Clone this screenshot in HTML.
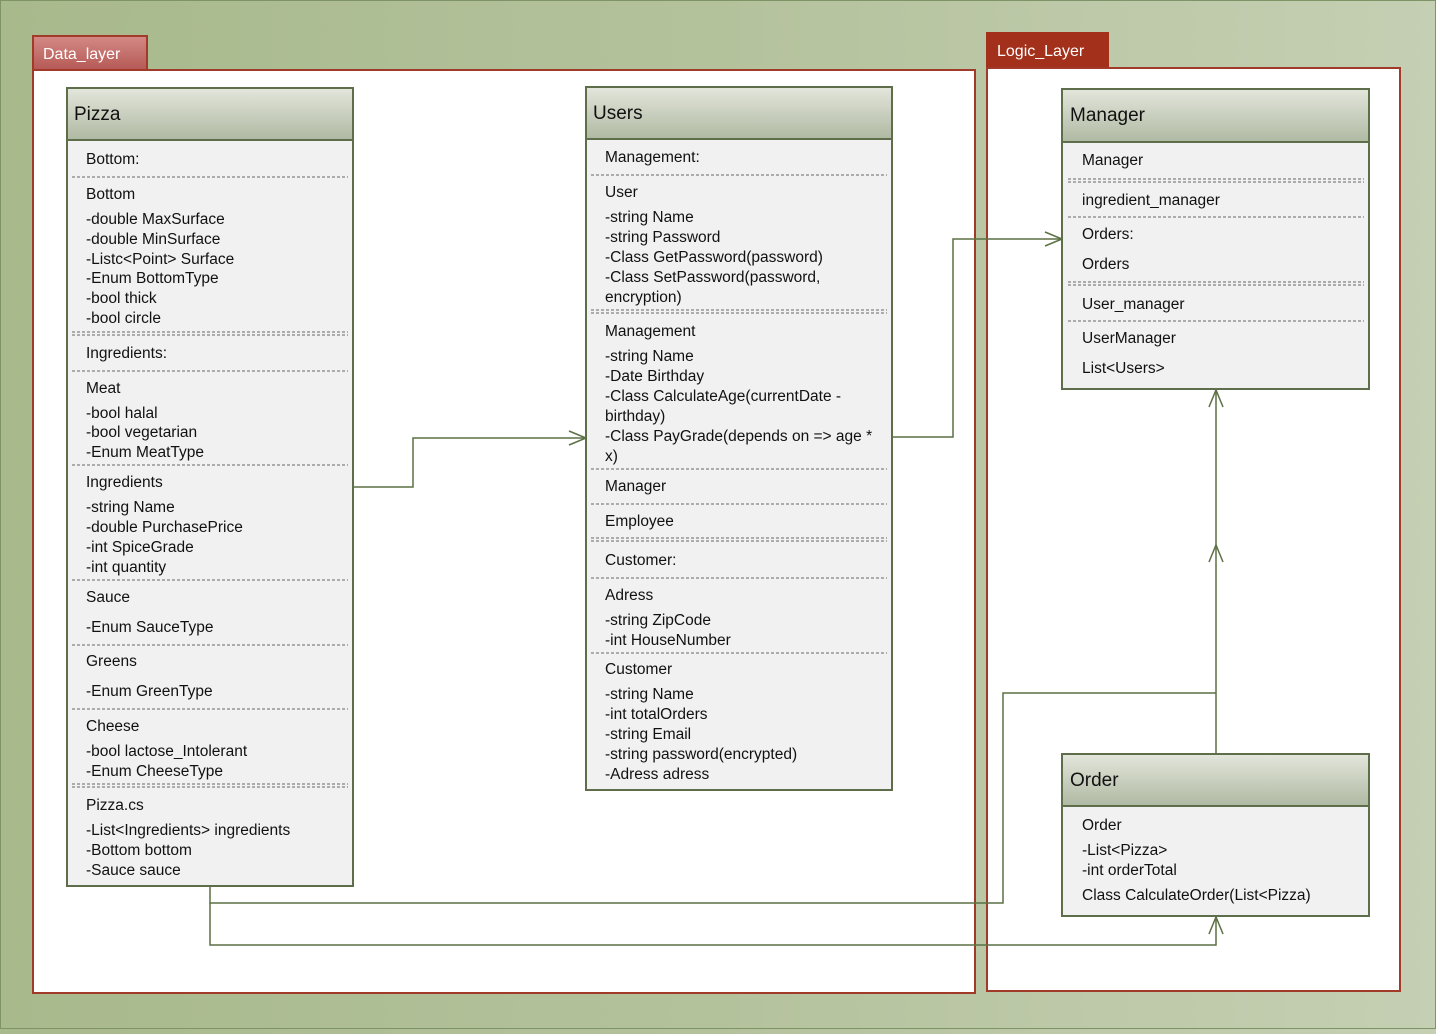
<!DOCTYPE html>
<html><head><meta charset="utf-8"><style>
html,body{margin:0;padding:0;}
body{width:1436px;height:1029px;overflow:hidden;background:linear-gradient(90deg,#a8b98c 0%,#b4c29c 50%,#c5cfb3 100%);}
svg text{font-family:"Liberation Sans",sans-serif;fill:#111;}
</style></head><body>
<svg width="1436" height="1029" viewBox="0 0 1436 1029" xmlns="http://www.w3.org/2000/svg">
<defs>
<linearGradient id="hd" x1="0" y1="0" x2="0" y2="1"><stop offset="0" stop-color="#e3e6dc"/><stop offset="1" stop-color="#b0b9a2"/></linearGradient>
<linearGradient id="tab1" x1="0" y1="0" x2="0" y2="1"><stop offset="0" stop-color="#d48a86"/><stop offset="1" stop-color="#b55955"/></linearGradient>
<marker id="ar" markerWidth="20" markerHeight="16" refX="18" refY="8" orient="auto" markerUnits="userSpaceOnUse"><path d="M1,1 L18,8 L1,15" fill="none" stroke="#5b7043" stroke-width="1.5"/></marker>
</defs>
<rect x="0.5" y="0.5" width="1435" height="1028" fill="none" stroke="#7f9466"/>
<!-- Data layer -->
<rect x="33" y="36" width="114" height="34" fill="url(#tab1)" stroke="#a23a2a" stroke-width="2"/>
<text x="43" y="59" font-size="16" style="fill:#fff">Data_layer</text>
<rect x="33" y="70" width="942" height="923" fill="#fff" stroke="#a23a2a" stroke-width="2"/>
<!-- Logic layer -->
<rect x="987" y="33" width="121" height="35" fill="#a3301a" stroke="#a3301a" stroke-width="2"/>
<text x="997" y="56" font-size="16" style="fill:#fff">Logic_Layer</text>
<rect x="987" y="68" width="413" height="923" fill="#fff" stroke="#a23a2a" stroke-width="2"/>

<g stroke="#5b7043" stroke-width="1.5" fill="none">
<polyline points="353,487 413,487 413,438 586,438" marker-end="url(#ar)"/>
<polyline points="892,437 953,437 953,239 1062,239" marker-end="url(#ar)"/>
<polyline points="210,886 210,903 1003,903 1003,693 1216,693"/>
<line x1="1216" y1="754" x2="1216" y2="545" marker-end="url(#ar)"/>
<line x1="1216" y1="546" x2="1216" y2="390" marker-end="url(#ar)"/>
<polyline points="210,903 210,945 1216,945 1216,917" marker-end="url(#ar)"/>
</g>

<!-- Pizza -->
<g>
<rect x="67" y="88" width="286" height="798" fill="#f1f1f1" stroke="#5e6e4a" stroke-width="2"/>
<rect x="67" y="88" width="286" height="52" fill="url(#hd)" stroke="#5e6e4a" stroke-width="2"/>
<text x="74" y="120" font-size="19">Pizza</text>
<g stroke="#666" stroke-width="1" stroke-dasharray="3,2">
<line x1="72" y1="177" x2="348" y2="177"/>
<line x1="72" y1="332" x2="348" y2="332"/><line x1="72" y1="335" x2="348" y2="335"/>
<line x1="72" y1="371" x2="348" y2="371"/>
<line x1="72" y1="465" x2="348" y2="465"/>
<line x1="72" y1="580" x2="348" y2="580"/>
<line x1="72" y1="645" x2="348" y2="645"/>
<line x1="72" y1="709" x2="348" y2="709"/>
<line x1="72" y1="784" x2="348" y2="784"/><line x1="72" y1="787" x2="348" y2="787"/>
</g>
<g font-size="15.5">
<text x="86" y="164">Bottom:</text>
<text x="86" y="199">Bottom</text>
<text x="86" y="224">-double MaxSurface</text>
<text x="86" y="244">-double MinSurface</text>
<text x="86" y="264">-Listc&lt;Point&gt; Surface</text>
<text x="86" y="283">-Enum BottomType</text>
<text x="86" y="303">-bool thick</text>
<text x="86" y="323">-bool circle</text>
<text x="86" y="358">Ingredients:</text>
<text x="86" y="393">Meat</text>
<text x="86" y="418">-bool halal</text>
<text x="86" y="437">-bool vegetarian</text>
<text x="86" y="457">-Enum MeatType</text>
<text x="86" y="487">Ingredients</text>
<text x="86" y="512">-string Name</text>
<text x="86" y="532">-double PurchasePrice</text>
<text x="86" y="552">-int SpiceGrade</text>
<text x="86" y="572">-int quantity</text>
<text x="86" y="602">Sauce</text>
<text x="86" y="632">-Enum SauceType</text>
<text x="86" y="666">Greens</text>
<text x="86" y="696">-Enum GreenType</text>
<text x="86" y="731">Cheese</text>
<text x="86" y="756">-bool lactose_Intolerant</text>
<text x="86" y="776">-Enum CheeseType</text>
<text x="86" y="810">Pizza.cs</text>
<text x="86" y="835">-List&lt;Ingredients&gt; ingredients</text>
<text x="86" y="855">-Bottom bottom</text>
<text x="86" y="875">-Sauce sauce</text>
</g>
</g>

<!-- Users -->
<g>
<rect x="586" y="87" width="306" height="703" fill="#f1f1f1" stroke="#5e6e4a" stroke-width="2"/>
<rect x="586" y="87" width="306" height="52" fill="url(#hd)" stroke="#5e6e4a" stroke-width="2"/>
<text x="593" y="119" font-size="19">Users</text>
<g stroke="#666" stroke-width="1" stroke-dasharray="3,2">
<line x1="591" y1="175" x2="887" y2="175"/>
<line x1="591" y1="310" x2="887" y2="310"/><line x1="591" y1="313" x2="887" y2="313"/>
<line x1="591" y1="469" x2="887" y2="469"/>
<line x1="591" y1="504" x2="887" y2="504"/>
<line x1="591" y1="538" x2="887" y2="538"/><line x1="591" y1="541" x2="887" y2="541"/>
<line x1="591" y1="578" x2="887" y2="578"/>
<line x1="591" y1="653" x2="887" y2="653"/>
</g>
<g font-size="15.5">
<text x="605" y="162">Management:</text>
<text x="605" y="197">User</text>
<text x="605" y="222">-string Name</text>
<text x="605" y="242">-string Password</text>
<text x="605" y="262">-Class GetPassword(password)</text>
<text x="605" y="282">-Class SetPassword(password,</text>
<text x="605" y="302">encryption)</text>
<text x="605" y="336">Management</text>
<text x="605" y="361">-string Name</text>
<text x="605" y="381">-Date Birthday</text>
<text x="605" y="401">-Class CalculateAge(currentDate -</text>
<text x="605" y="421">birthday)</text>
<text x="605" y="441">-Class PayGrade(depends on =&gt; age *</text>
<text x="605" y="461">x)</text>
<text x="605" y="491">Manager</text>
<text x="605" y="526">Employee</text>
<text x="605" y="565">Customer:</text>
<text x="605" y="600">Adress</text>
<text x="605" y="625">-string ZipCode</text>
<text x="605" y="645">-int HouseNumber</text>
<text x="605" y="674">Customer</text>
<text x="605" y="699">-string Name</text>
<text x="605" y="719">-int totalOrders</text>
<text x="605" y="739">-string Email</text>
<text x="605" y="759">-string password(encrypted)</text>
<text x="605" y="779">-Adress adress</text>
</g>
</g>

<!-- Manager -->
<g>
<rect x="1062" y="89" width="307" height="300" fill="#f1f1f1" stroke="#5e6e4a" stroke-width="2"/>
<rect x="1062" y="89" width="307" height="53" fill="url(#hd)" stroke="#5e6e4a" stroke-width="2"/>
<text x="1070" y="121" font-size="19">Manager</text>
<g stroke="#666" stroke-width="1" stroke-dasharray="3,2">
<line x1="1068" y1="179" x2="1364" y2="179"/><line x1="1068" y1="182" x2="1364" y2="182"/>
<line x1="1068" y1="217" x2="1364" y2="217"/>
<line x1="1068" y1="282" x2="1364" y2="282"/><line x1="1068" y1="285" x2="1364" y2="285"/>
<line x1="1068" y1="321" x2="1364" y2="321"/>
</g>
<g font-size="15.5">
<text x="1082" y="165">Manager</text>
<text x="1082" y="205">ingredient_manager</text>
<text x="1082" y="239">Orders:</text>
<text x="1082" y="269">Orders</text>
<text x="1082" y="309">User_manager</text>
<text x="1082" y="343">UserManager</text>
<text x="1082" y="373">List&lt;Users&gt;</text>
</g>
</g>

<!-- Order -->
<g>
<rect x="1062" y="754" width="307" height="162" fill="#f1f1f1" stroke="#5e6e4a" stroke-width="2"/>
<rect x="1062" y="754" width="307" height="52" fill="url(#hd)" stroke="#5e6e4a" stroke-width="2"/>
<text x="1070" y="786" font-size="19">Order</text>
<g font-size="15.5">
<text x="1082" y="830">Order</text>
<text x="1082" y="855">-List&lt;Pizza&gt;</text>
<text x="1082" y="875">-int orderTotal</text>
<text x="1082" y="900">Class CalculateOrder(List&lt;Pizza)</text>
</g>
</g>
</svg>
</body></html>
